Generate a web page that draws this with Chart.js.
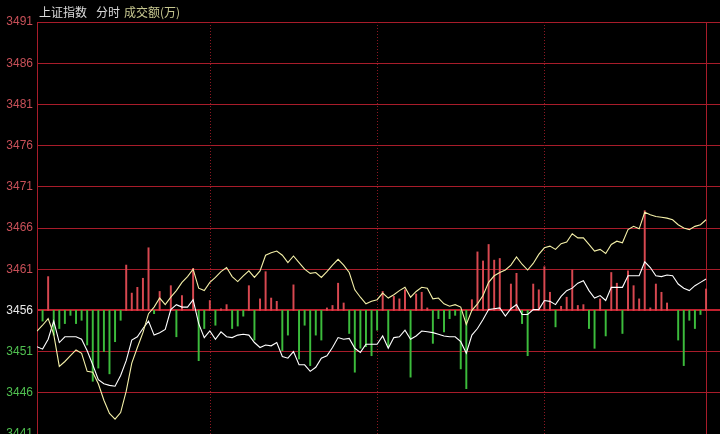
<!DOCTYPE html>
<html>
<head>
<meta charset="utf-8">
<script src="https://cdn.jsdelivr.net/npm/chart.js@4"></script>
<style>
  html, body { margin: 0; padding: 0; background: #000; }
  #chart { display: block; }
</style>
</head>
<body>
<canvas id="chart" width="720" height="434"></canvas>
<script>
// 上证指数 分时 – white = index, yellow = unweighted index, bars = 成交额 red/green
const baseLevel = 3456;
const yTicks = [3441, 3446, 3451, 3456, 3461, 3466, 3471, 3476, 3481, 3486, 3491];
const sessionMarks = [31, 61, 91];
const closeMark = 120;
const titleParts = ['上证指数', '分时', '成交额(万)'];

const indexLine = [
    3451.6, 3451.3, 3452.5, 3454.7, 3452.1, 3452.8, 3452.8, 3452.8, 3452.5, 3451.1,
    3449.4, 3447.6, 3447.1, 3446.9, 3446.8, 3448.1, 3449.9, 3452.4, 3452.8, 3453.8,
    3454.7, 3453.0, 3453.3, 3453.7, 3456.1, 3456.7, 3456.4, 3456.4, 3457.3, 3454.4,
    3452.7, 3453.5, 3452.5, 3453.4, 3452.8, 3452.7, 3453.0, 3453.1, 3453.0, 3452.1,
    3451.5, 3451.8, 3451.7, 3452.1, 3450.4, 3450.2, 3451.0, 3449.4, 3449.4, 3448.6,
    3449.1, 3450.2, 3450.5, 3451.5, 3452.7, 3452.5, 3452.6, 3451.4, 3450.9, 3451.9,
    3451.9, 3451.9, 3452.9, 3451.4, 3452.7, 3452.8, 3453.6, 3452.5, 3452.9, 3453.5,
    3453.4, 3453.3, 3453.1, 3452.9, 3452.8, 3452.8, 3452.2, 3450.8, 3453.0, 3453.8,
    3454.9, 3456.1, 3456.2, 3456.3, 3455.3, 3456.2, 3456.7, 3455.5, 3455.5, 3456.1,
    3456.1, 3457.2, 3457.1, 3456.7, 3457.7, 3458.4, 3458.7, 3459.3, 3459.6, 3458.4,
    3457.5, 3457.8, 3457.2, 3458.8, 3458.8, 3458.8, 3460.2, 3460.2, 3460.2, 3461.9,
    3461.2, 3460.2, 3460.1, 3460.3, 3460.2, 3459.2, 3458.7, 3458.4, 3459.0, 3459.4,
    3459.8
];

const equalLine = [
    3453.5, 3454.2, 3455.0, 3453.1, 3449.2, 3449.8, 3450.5, 3451.2, 3450.8, 3448.6,
    3448.5, 3447.1, 3445.1, 3443.5, 3442.8, 3443.6, 3446.2, 3449.6, 3451.5, 3453.3,
    3455.6, 3456.4, 3457.5, 3456.7, 3457.6, 3458.4, 3459.4, 3460.1, 3461.0, 3458.7,
    3458.4, 3459.4, 3460.0, 3460.7, 3461.2, 3460.1, 3459.5, 3460.2, 3460.8, 3460.0,
    3460.8, 3462.7, 3463.0, 3463.2, 3462.7, 3461.8, 3462.6, 3461.8, 3461.0, 3460.5,
    3460.6, 3460.0, 3460.7, 3461.5, 3462.2, 3461.5, 3460.6, 3458.5, 3457.6, 3456.8,
    3457.1, 3457.3, 3458.1, 3457.5, 3457.9, 3458.4, 3458.8, 3457.6, 3458.3, 3458.8,
    3458.7, 3457.4, 3457.5, 3456.8, 3456.5, 3456.7, 3456.4, 3454.3, 3456.0, 3456.8,
    3457.8, 3459.4, 3460.2, 3460.6, 3460.9, 3461.5, 3462.5, 3461.6, 3460.9, 3461.7,
    3462.8, 3463.6, 3463.8, 3463.4, 3464.1, 3464.3, 3465.3, 3464.8, 3464.8, 3464.0,
    3463.2, 3463.4, 3462.9, 3464.0, 3464.4, 3464.2, 3465.8, 3466.2, 3465.9, 3467.9,
    3467.6, 3467.4, 3467.3, 3467.2, 3467.0, 3466.4, 3466.0, 3465.8, 3466.2, 3466.4,
    3467.0
];

// bar length measured from the 3456 line, in index points
const barDelta = [
    0, -1.3, 4.1, -3.0, -2.2, -1.6, -0.6, -1.6, -1.2, -4.2,
    -8.6, -7.0, -5.0, -7.7, -3.8, -1.2, 5.5, 2.1, 2.8, 3.9,
    7.6, -0.4, 2.3, 0, 3.0, -3.2, 1.8, 0, 5.1, -6.1,
    -2.2, 1.2, -1.8, 0.2, 0.7, -2.2, -1.9, -0.7, 3.0, -3.6,
    1.4, 4.7, 1.5, 1.1, -4.9, -3.0, 3.1, -5.9, -1.8, -6.7,
    -3.0, -3.6, 0.3, 0.6, 3.3, 0.9, -2.8, -7.5, -4.6, -4.4,
    -5.5, -2.4, 2.3, -4.4, 1.7, 1.4, 2.5, -8.1, 2.0, 2.2,
    0.3, -4.0, -1.0, -2.6, -1.0, -0.6, -7.1, -9.5, 1.3, 7.1,
    6.0, 8.0, 6.1, 6.3, 0, 3.2, 4.5, -1.6, -5.5, 3.2,
    2.5, 5.3, 2.2, -2.0, 0.5, 1.6, 4.9, 0.6, 0.7, -2.2,
    -4.6, 1.4, -3.1, 4.6, 3.3, -2.8, 4.8, 3.0, 1.4, 12.1,
    0.3, 3.2, 2.2, 0.9, 0, -3.6, -6.7, -1.2, -2.2, -0.5,
    2.6
];

const UP = '#d84850';
const DOWN = '#3cbc3c';
const GRID = '#a81c2a';

const bars = barDelta
    .map((d, i) => ({x: i, y: [baseLevel, baseLevel + d], d}))
    .filter(b => b.d !== 0);

function tickColor(v) {
    if (v > baseLevel) return '#c85058';
    if (v < baseLevel) return '#50c050';
    return '#e8e8e8';
}

// background, session dividers and the header line
const framePlugin = {
    id: 'frame',
    beforeDraw(chart) {
        const {ctx, width, height} = chart;
        ctx.save();
        ctx.fillStyle = '#000';
        ctx.fillRect(0, 0, width, height);
        ctx.restore();
    },
    beforeDatasetsDraw(chart) {
        const {ctx, chartArea, scales} = chart;
        ctx.save();
        ctx.strokeStyle = '#8c1822';
        ctx.lineWidth = 1;
        ctx.setLineDash([1, 2]);
        sessionMarks.forEach(m => {
            const x = Math.round(scales.x.getPixelForValue(m)) + 0.5;
            ctx.beginPath();
            ctx.moveTo(x, chartArea.top);
            ctx.lineTo(x, chartArea.bottom);
            ctx.stroke();
        });
        ctx.setLineDash([]);
        ctx.strokeStyle = GRID;
        const xc = Math.round(scales.x.getPixelForValue(closeMark)) + 0.5;
        ctx.beginPath();
        ctx.moveTo(xc, chartArea.top);
        ctx.lineTo(xc, chartArea.bottom);
        ctx.stroke();
        ctx.restore();
    },
    afterDraw(chart) {
        const {ctx} = chart;
        ctx.save();
        ctx.font = '12px "Noto Sans CJK SC"';
        ctx.textBaseline = 'middle';
        ctx.fillStyle = '#dcdcdc';
        ctx.fillText(titleParts[0], 39, 12);
        ctx.fillText(titleParts[1], 96, 12);
        ctx.fillStyle = '#c8c890';
        ctx.fillText(titleParts[2], 124, 12);
        ctx.restore();
    }
};

new Chart(document.getElementById('chart'), {
    type: 'line',
    data: {
        datasets: [
            {
                type: 'line',
                data: equalLine.map((v, i) => ({x: i, y: v})),
                borderColor: '#f4f0a8',
                borderWidth: 1.1,
                pointRadius: 0,
                tension: 0,
                order: 1
            },
            {
                type: 'line',
                data: indexLine.map((v, i) => ({x: i, y: v})),
                borderColor: '#ffffff',
                borderWidth: 1.1,
                pointRadius: 0,
                tension: 0,
                order: 2
            },
            {
                type: 'bar',
                data: bars.map(b => ({x: b.x, y: b.y})),
                backgroundColor: bars.map(b => b.d > 0 ? UP : DOWN),
                borderWidth: 0,
                barThickness: 1.3,
                order: 3
            }
        ]
    },
    options: {
        responsive: false,
        animation: false,
        events: [],
        layout: {padding: {top: 22, right: 0, bottom: 0, left: 0}},
        plugins: {
            legend: {display: false},
            tooltip: {enabled: false}
        },
        scales: {
            x: {
                type: 'linear',
                display: false,
                offset: false,
                min: 0,
                max: 122.5
            },
            y: {
                min: 3441,
                max: 3491,
                afterBuildTicks: s => { s.ticks = yTicks.map(v => ({value: v})); },
                afterFit: s => { s.width = 37; s.paddingTop = 0; s.paddingBottom = 0; },
                ticks: {
                    padding: 4,
                    color: c => tickColor(c.tick.value),
                    callback: v => String(v),
                    font: {family: '"Liberation Sans", Arial', size: 12}
                },
                grid: {
                    drawTicks: false,
                    color: c => c.tick && c.tick.value === baseLevel ? '#c0202e' : GRID,
                    lineWidth: c => c.tick && c.tick.value === baseLevel ? 2 : 1
                },
                border: {display: true, color: GRID, width: 1}
            }
        }
    },
    plugins: [framePlugin]
});
</script>
</body>
</html>
